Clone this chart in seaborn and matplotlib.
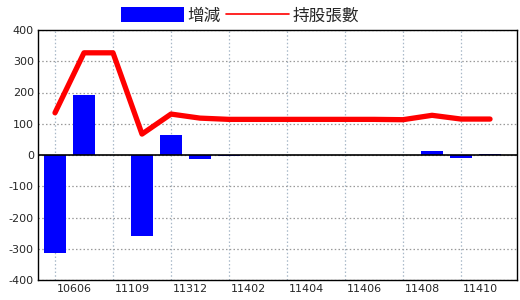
import matplotlib
matplotlib.use("Agg")
import matplotlib.pyplot as plt
import seaborn as sns
import pandas as pd
import numpy as np
from matplotlib.patches import Patch
from matplotlib.lines import Line2D
import matplotlib.transforms as mtransforms

periods = ['10606', '10912', '11109', '11210', '11312', '11401', '11402', '11403',
           '11404', '11405', '11406', '11407', '11408', '11409', '11410', '11411']
change = [-312, 192, 0, -260, 64, -13, -4, 0, 0, 0, 0, 0, 0, 13, -8, 3]
holdings = [135, 327, 327, 67, 131, 118, 114, 114, 114, 114, 114, 114, 113, 127, 115, 115]
yticks = [-400, -300, -200, -100, 0, 100, 200, 300, 400]
label_every = 2

sns.set_style("white")
plt.rcParams['font.family'] = ['Noto Sans CJK TC', 'DejaVu Sans']

df = pd.DataFrame({'period': periods, 'change': change, 'holdings': holdings,
                   'pos': np.arange(len(periods))})

fig = plt.figure(figsize=(5.2, 3.0), dpi=100)
ax = fig.add_axes([38/520, 1 - 280/300, (517-38)/520, 250/300])

sns.barplot(data=df, x='period', y='change', order=periods, color='#0000ff',
            saturation=1, width=0.76, ax=ax, zorder=3, linewidth=0)
sns.lineplot(data=df, x='pos', y='holdings', color='#ff0000', linewidth=3.8,
             ax=ax, zorder=4)

ax.set_xlim(-0.586, 15.93)
ax.set_ylim(-400, 400)
ax.set_yticks(yticks)
ax.set_yticklabels([str(v) for v in yticks], family='DejaVu Sans', fontsize=8)
xt = list(range(0, len(periods), label_every))
ax.set_xticks(xt)
ax.set_xticklabels([periods[i] for i in xt], family='DejaVu Sans', fontsize=8, ha='left')
ax.tick_params(axis='both', length=0, pad=3)
ax.set_xlabel('')
ax.set_ylabel('')

ax.grid(axis='y', color='#999999', linestyle=(0, (1.2, 1.8)), linewidth=0.9, zorder=0)
ax.grid(axis='x', color='#a8b8c8', linestyle=(0, (1.2, 1.8)), linewidth=0.9, zorder=0)
ax.set_axisbelow(True)
ax.axhline(0, color='black', linewidth=1.2, zorder=5)
for s in ax.spines.values():
    s.set_visible(True)
    s.set_color('black')
    s.set_linewidth(1.0)

offset = mtransforms.ScaledTranslation(2/100, 0, fig.dpi_scale_trans)
for lbl in ax.get_xticklabels():
    lbl.set_transform(lbl.get_transform() + offset)

handles = [Patch(facecolor='#0000ff', edgecolor='none'),
           Line2D([0], [0], color='#ff0000', linewidth=1.2)]
fig.legend(handles, ['增減', '持股張數'], loc='center', bbox_to_anchor=(240/520, 1 - 16/300),
           ncol=2, frameon=False, fontsize=12, handlelength=3.8, handleheight=1.0,
           columnspacing=0.3, handletextpad=0.2, borderpad=0)

fig.savefig('out.png', dpi=100)
